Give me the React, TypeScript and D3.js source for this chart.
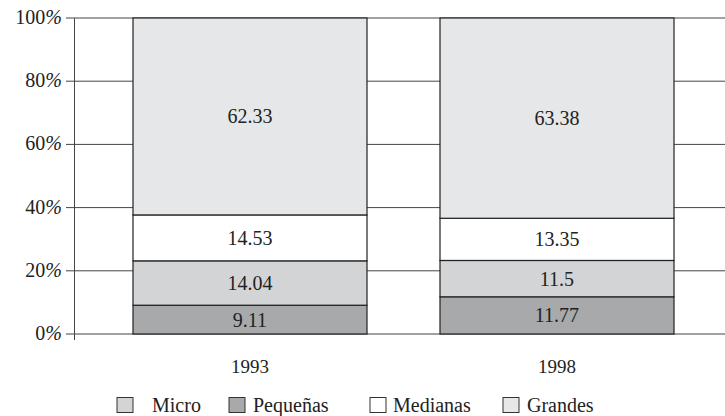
import React from 'react';
import * as d3 from 'd3';

const years = ['1993', '1998'];
const micro = [9.11, 11.77];
const pequenas = [14.04, 11.5];
const medianas = [14.53, 13.35];
const grandes = [62.33, 63.38];
const yTicks = [0, 20, 40, 60, 80, 100];

const segColors = ['#a8a9ab', '#d3d4d6', '#ffffff', '#e6e7e8'];
const legendItems = [
  { label: 'Micro', color: '#d3d4d6', x: 117, tx: 152 },
  { label: 'Pequeñas', color: '#a8a9ab', x: 229, tx: 253 },
  { label: 'Medianas', color: '#ffffff', x: 370, tx: 393 },
  { label: 'Grandes', color: '#e6e7e8', x: 503, tx: 527 },
];

const W = 725;
const H = 416;
const font = "'Liberation Serif', 'DejaVu Serif', serif";

export default function App() {
  const x = d3.scaleBand<string>()
    .domain(years)
    .range([96.5, 710.5])
    .paddingInner(0.2378)
    .paddingOuter(0.1189);
  const y = d3.scaleLinear().domain([0, 100]).range([334, 18]);

  const series = [micro, pequenas, medianas, grandes];
  const rows = years.map((yr, i) => {
    let acc = 0;
    return series.map((s, k) => {
      const y0 = acc;
      acc += s[i];
      return { yr, k, v: s[i], y0, y1: acc };
    });
  });

  return (
    <svg width={W} height={H} style={{ position: 'absolute', left: 0, top: 0, background: '#fff', fontFamily: font }}>
      {yTicks.map(t => (
        <g key={t}>
          <line x1={66} x2={W} y1={y(t)} y2={y(t)} stroke="#444" strokeWidth={1} />
          <text x={62} y={y(t) + 6} textAnchor="end" fontSize={20} fill="#222">
            {t}<tspan fontStyle="italic">%</tspan>
          </text>
        </g>
      ))}
      <line x1={74.5} x2={74.5} y1={y(100)} y2={y(0) + 6} stroke="#444" strokeWidth={1} />
      {rows.map(r => r.map(d => {
        const top = d.y1 > 100 ? 100 : d.y1;
        return (
          <g key={d.yr + d.k}>
            <rect x={x(d.yr)!} width={x.bandwidth()} y={y(top)} height={y(d.y0) - y(top)}
              fill={segColors[d.k]} stroke="#222" strokeWidth={1.2} />
            <text x={x(d.yr)! + x.bandwidth() / 2} y={(y(d.y0) + y(top)) / 2 + 7}
              textAnchor="middle" fontSize={20} fill="#222">{d.v}</text>
          </g>
        );
      }))}
      {years.map(yr => (
        <text key={yr} x={x(yr)! + x.bandwidth() / 2} y={373} textAnchor="middle" fontSize={19} fill="#222">{yr}</text>
      ))}
      {legendItems.map(l => (
        <g key={l.label}>
          <rect x={l.x} y={397.5} width={16} height={15} fill={l.color} stroke="#333" strokeWidth={1} />
          <text x={l.tx} y={412} fontSize={20} fill="#222">{l.label}</text>
        </g>
      ))}
    </svg>
  );
}
